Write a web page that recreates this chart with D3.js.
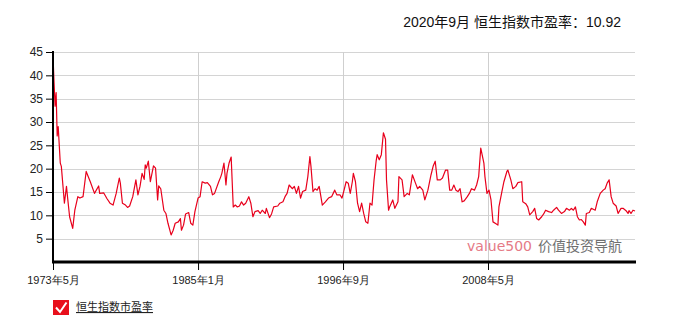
<!DOCTYPE html>
<html>
<head>
<meta charset="utf-8">
<script src="https://cdn.jsdelivr.net/npm/d3@7"></script>
<style>
  html, body { margin: 0; padding: 0; background: #fff; }
  svg { display: block; font-family: "Liberation Sans", Arial, "Noto Sans CJK SC", sans-serif; }
</style>
</head>
<body>
<div id="chart"></div>
<script>
// Hang Seng index P/E (month, value)
const MONTHS = [
  "1973-05","1973-06","1973-07","1973-08","1973-09","1973-10","1973-12","1974-01","1974-04","1974-06",
  "1974-07","1974-09","1974-12","1975-02","1975-05","1975-07","1975-10","1976-01","1976-05","1976-09",
  "1977-01","1977-02","1977-06","1977-09","1977-12","1978-03","1978-06","1978-09","1978-10","1978-12",
  "1979-03","1979-05","1979-07","1979-10","1980-01","1980-03","1980-05","1980-07","1980-09","1980-10",
  "1980-11","1981-01","1981-03","1981-06","1981-08","1981-10","1981-11","1982-01","1982-04","1982-06",
  "1982-08","1982-11","1983-01","1983-03","1983-06","1983-08","1983-09","1983-11","1984-01","1984-04",
  "1984-06","1984-08","1984-10","1985-01","1985-03","1985-05","1985-08","1985-10","1986-01","1986-03",
  "1986-05","1986-09","1986-11","1986-12","1987-02","1987-04","1987-05","1987-07","1987-09","1987-11",
  "1988-01","1988-03","1988-05","1988-07","1988-09","1988-11","1989-02","1989-04","1989-06","1989-08",
  "1989-11","1990-01","1990-03","1990-06","1990-07","1990-10","1990-12","1991-02","1991-06","1991-08",
  "1991-11","1992-01","1992-03","1992-05","1992-08","1992-10","1992-12","1993-02","1993-04","1993-06",
  "1993-09","1993-11","1994-01","1994-02","1994-04","1994-06","1994-08","1994-10","1995-01","1995-04",
  "1995-07","1995-10","1996-01","1996-03","1996-06","1996-08","1996-10","1996-12","1997-02","1997-04",
  "1997-06","1997-07","1997-09","1997-11","1998-01","1998-03","1998-05","1998-07","1998-09","1998-11",
  "1999-01","1999-03","1999-05","1999-06","1999-08","1999-10","1999-12","2000-02","2000-03","2000-05",
  "2000-06","2000-09","2000-11","2001-02","2001-03","2001-06","2001-08","2001-11","2002-01","2002-04",
  "2002-07","2002-09","2002-11","2003-02","2003-04","2003-07","2003-10","2003-12","2004-02","2004-04",
  "2004-07","2004-09","2004-12","2005-02","2005-04","2005-06","2005-08","2005-10","2005-12","2006-02",
  "2006-04","2006-06","2006-09","2006-11","2007-01","2007-04","2007-06","2007-08","2007-10","2008-01",
  "2008-02","2008-04","2008-06","2008-08","2008-10","2009-01","2009-03","2009-04","2009-07","2009-09",
  "2009-12","2010-01","2010-04","2010-06","2010-09","2010-11","2011-03","2011-04","2011-07","2011-09",
  "2011-11","2012-02","2012-04","2012-06","2012-08","2012-11","2013-01","2013-03","2013-06","2013-09",
  "2013-11","2014-02","2014-04","2014-07","2014-10","2014-12","2015-03","2015-05","2015-07","2015-09",
  "2015-11","2016-01","2016-03","2016-05","2016-07","2016-08","2016-11","2017-01","2017-05","2017-07",
  "2017-10","2018-01","2018-03","2018-05","2018-07","2018-09","2018-11","2019-02","2019-04","2019-07",
  "2019-09","2019-12","2020-02","2020-03","2020-05","2020-07","2020-09"
];
const PE = [
  44.2,38.4,33.4,36.3,27.0,29.0,21.2,20.5,12.6,16.2,
  14.0,9.7,7.2,11.1,14.0,13.7,14.0,19.4,17.2,14.7,
  16.3,14.7,14.8,13.6,12.6,12.2,14.7,18.0,16.9,12.6,
  12.2,11.7,12.0,14.0,17.6,14.4,16.2,19.0,17.7,20.8,
  20.1,21.6,17.2,20.6,20.1,13.3,16.3,15.7,11.1,10.4,
  8.3,5.8,6.8,8.3,8.6,9.3,6.8,7.9,10.3,10.6,
  8.3,7.9,10.8,13.7,14.0,17.2,16.9,17.0,16.2,14.4,
  14.7,17.2,18.3,19.0,21.2,16.5,19.0,21.2,22.5,11.8,
  12.2,11.8,12.0,12.9,12.2,12.6,14.0,12.6,9.7,10.8,
  11.0,10.4,11.1,10.4,11.5,9.5,10.3,11.8,12.0,12.6,
  12.9,14.0,14.7,16.5,15.7,16.2,14.7,16.2,13.7,15.1,
  15.4,18.3,22.6,20.5,15.1,15.7,15.4,16.2,12.2,12.9,
  13.7,14.0,15.4,14.4,14.4,13.7,15.4,17.2,16.9,14.7,
  17.2,19.0,17.2,12.6,10.8,12.6,10.4,8.6,8.3,12.6,
  12.2,17.6,21.6,23.0,21.9,23.0,27.7,26.3,17.6,11.1,
  11.8,13.3,11.5,12.9,18.3,17.6,14.0,14.7,14.4,18.7,
  16.9,15.7,16.2,15.4,13.3,15.4,18.7,20.5,21.6,17.6,
  17.6,18.0,19.7,19.7,15.4,15.4,16.5,15.4,15.1,15.7,
  12.9,13.1,14.0,14.7,15.7,15.4,16.5,18.3,24.4,21.2,
  18.3,14.7,15.4,13.3,8.6,8.2,7.9,11.8,15.1,17.2,
  19.4,19.7,17.6,15.7,16.2,17.0,17.2,12.9,12.5,11.8,
  10.1,10.8,11.5,9.3,9.0,9.7,10.3,11.1,10.8,10.6,
  11.1,11.7,11.1,10.4,10.8,11.5,11.1,11.5,11.1,11.8,
  9.7,9.0,9.1,8.6,7.9,10.4,10.6,11.5,11.1,12.9,
  14.7,15.4,15.7,16.9,17.6,14.0,12.6,12.0,10.4,11.5,
  11.5,11.0,10.4,11.0,10.4,11.1,10.92
];
const X_TICKS = ["1973-05", "1985-01", "1996-09", "2008-05"];
const Y_TICKS = [5, 10, 15, 20, 25, 30, 35, 40, 45];
const TITLE = "2020年9月 恒生指数市盈率：10.92";
const SERIES_NAME = "恒生指数市盈率";

const W = 686, H = 319;
const parse = d3.timeParse("%Y-%m");
const data = MONTHS.map((m, i) => ({ date: parse(m), value: PE[i] }));

const svg = d3.select("#chart").append("svg")
  .attr("width", W).attr("height", H)
  .attr("viewBox", [0, 0, W, H]);

// source data is thinner after 2008, so the axis is piecewise
const x = d3.scaleTime()
  .domain([parse("1973-05"), parse("2008-05"), parse("2020-09")])
  .range([53, 488, 635]);
const y = d3.scaleLinear().domain([0, 45]).range([262, 52]);

// grid
svg.append("g").selectAll("line").data(Y_TICKS).join("line")
  .attr("x1", 53).attr("x2", 635)
  .attr("y1", d => Math.round(y(d)) + 0.5).attr("y2", d => Math.round(y(d)) + 0.5)
  .attr("stroke", "#d4d4d4");
svg.append("g").selectAll("line").data(X_TICKS.slice(1)).join("line")
  .attr("x1", d => Math.round(x(parse(d))) + 0.5).attr("x2", d => Math.round(x(parse(d))) + 0.5)
  .attr("y1", 52).attr("y2", 262)
  .attr("stroke", "#cfcfcf");

// watermark
const wm = svg.append("text").attr("x", 622).attr("y", 251).attr("text-anchor", "end");
wm.append("tspan").attr("font-family", "DejaVu Sans").attr("font-size", 14)
  .attr("fill", "#e57a86").text("value500");
wm.append("tspan").attr("font-family", "Noto Sans CJK SC").attr("font-size", 14)
  .attr("fill", "#707070").attr("dx", 6).text("价值投资导航");

// line
svg.append("path").datum(data)
  .attr("fill", "none")
  .attr("stroke", "#e8001c")
  .attr("stroke-width", 1.2)
  .attr("stroke-linejoin", "round")
  .attr("d", d3.line().x(d => x(d.date)).y(d => y(d.value)));

// y axis
const yAxis = svg.append("g").attr("transform", "translate(53,0)")
  .call(d3.axisLeft(y).tickValues(Y_TICKS).tickSize(7).tickPadding(3));
yAxis.select(".domain").remove();
yAxis.selectAll("text").attr("font-size", 12).attr("fill", "#222")
  .attr("font-family", "Liberation Sans, Arial, sans-serif");
yAxis.selectAll("line").attr("stroke", "#000");
svg.append("line").attr("x1", 53).attr("x2", 53).attr("y1", 51).attr("y2", 263)
  .attr("stroke", "#000").attr("stroke-width", 2);

// x axis
const xAxis = svg.append("g").attr("transform", "translate(0,262)")
  .call(d3.axisBottom(x).tickValues(X_TICKS.map(parse))
    .tickFormat(d3.timeFormat("%Y年%-m月")).tickSize(8).tickPadding(6));
xAxis.select(".domain").remove();
xAxis.selectAll("line").attr("stroke", "#000");
xAxis.selectAll("text").attr("font-size", 11).attr("fill", "#222");
svg.append("line").attr("x1", 52).attr("x2", 636).attr("y1", 262).attr("y2", 262)
  .attr("stroke", "#000").attr("stroke-width", 3);

// title
svg.append("text").attr("x", 621).attr("y", 27).attr("text-anchor", "end")
  .attr("font-size", 14).attr("fill", "#111").text(TITLE);

// legend
const lg = svg.append("g").attr("transform", "translate(53,300)");
lg.append("rect").attr("width", 16).attr("height", 15).attr("fill", "#e8101c");
lg.append("path").attr("d", "M3,7.5 L7,12 L13.5,2.5")
  .attr("fill", "none").attr("stroke", "#fff").attr("stroke-width", 2);
lg.append("text").attr("x", 23).attr("y", 11).attr("font-size", 11)
  .attr("fill", "#222").attr("text-decoration", "underline").text(SERIES_NAME);
</script>
</body>
</html>
